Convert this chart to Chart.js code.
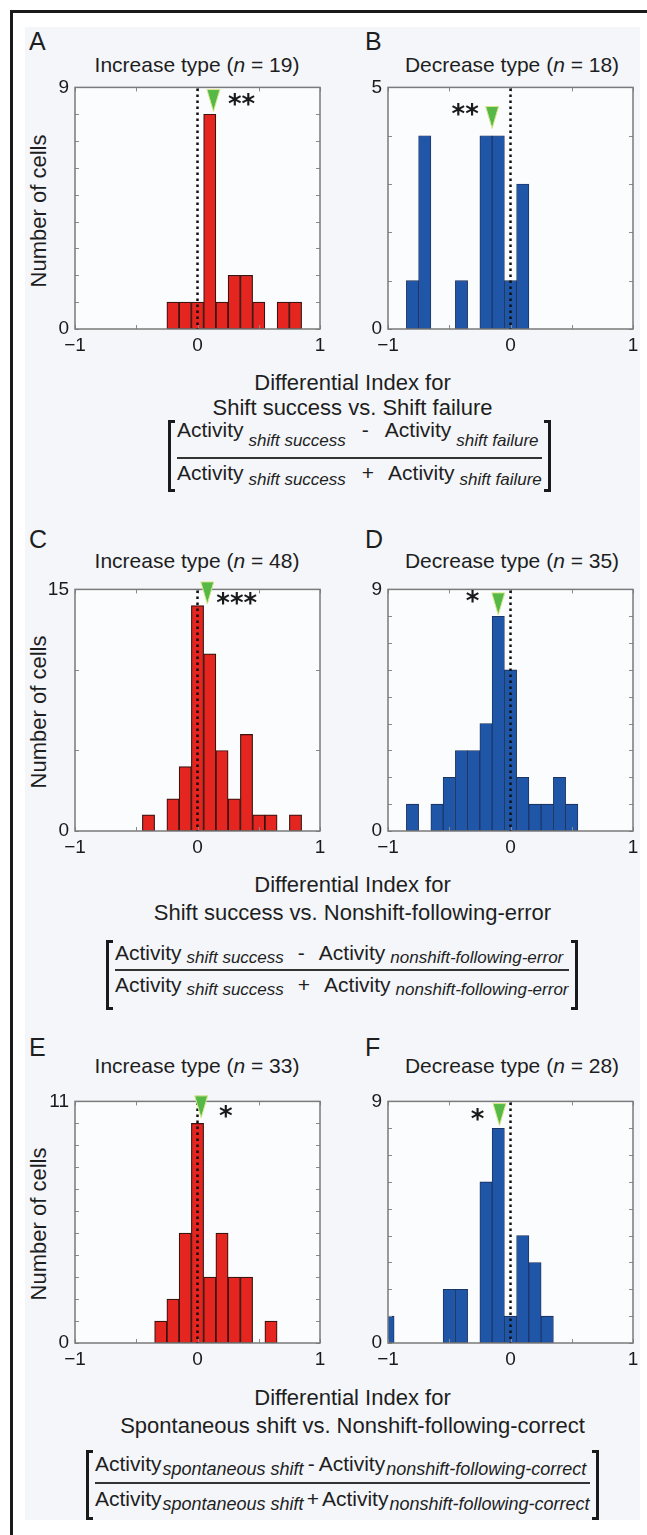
<!DOCTYPE html>
<html>
<head>
<meta charset="utf-8">
<script src="https://cdn.jsdelivr.net/npm/chart.js@4.4.1/dist/chart.umd.min.js"></script>
<style>
  html, body { margin: 0; padding: 0; }
  body { width: 647px; height: 1535px; overflow: hidden; position: relative; background: #fff;
         font-family: "Liberation Sans", Arial, sans-serif; color: #1e1e1e; }
  .frame { position: absolute; left: 10px; top: 10px; width: 700px; height: 1600px;
           border-left: 3px solid #1a1a1a; border-top: 3px solid #1a1a1a; }
  .bg { position: absolute; left: 25px; top: 27px; width: 615px; height: 1493px; background: #f4f6fa; }
  canvas { position: absolute; }
  .txt { position: absolute; white-space: nowrap; line-height: 1; }
  .letter { font-size: 25px; }
  .title { font-size: 21px; width: 320px; text-align: center; }
  .cap { font-size: 22px; left: 0; width: 705px; text-align: center; }
  .ylab { font-size: 22px; transform: translate(-50%, -50%) rotate(-90deg); }
  .fml { position: absolute; padding: 0 9px; font-size: 21px; line-height: 21px; white-space: nowrap; }
  .num { border-bottom: 2.5px solid #333; box-sizing: content-box; }
  .sb { font-size: 17px; font-style: italic; position: relative; margin-left: 5px; }
  .op { display: inline-block; margin: 0 14px; }
  .brk { position: absolute; width: 7px; box-sizing: border-box; border: 3px solid #1a1a1a; }
  .bl { left: 0; border-right: none; }
  .br { right: 0; border-left: none; }
</style>
</head>
<body>
<div class="frame"></div>
<div class="bg"></div>

<!-- panel letters and titles -->
<div class="txt letter" style="left:29px;top:29px">A</div>
<div class="txt letter" style="left:365px;top:29px">B</div>
<div class="txt letter" style="left:29px;top:527px">C</div>
<div class="txt letter" style="left:365px;top:527px">D</div>
<div class="txt letter" style="left:29px;top:1035px">E</div>
<div class="txt letter" style="left:365px;top:1035px">F</div>

<div class="txt title" style="left:37px;top:54px">Increase type (<i>n</i> = 19)</div>
<div class="txt title" style="left:352px;top:54px">Decrease type (<i>n</i> = 18)</div>
<div class="txt title" style="left:37px;top:550px">Increase type (<i>n</i> = 48)</div>
<div class="txt title" style="left:352px;top:550px">Decrease type (<i>n</i> = 35)</div>
<div class="txt title" style="left:37px;top:1055px">Increase type (<i>n</i> = 33)</div>
<div class="txt title" style="left:352px;top:1055px">Decrease type (<i>n</i> = 28)</div>

<div class="txt ylab" style="left:39px;top:211px">Number of cells</div>
<div class="txt ylab" style="left:39px;top:712px">Number of cells</div>
<div class="txt ylab" style="left:39px;top:1224px">Number of cells</div>

<canvas id="cA" width="300" height="290" style="left:40px;top:70px"></canvas>
<canvas id="cB" width="300" height="290" style="left:353px;top:70px"></canvas>
<canvas id="cC" width="300" height="290" style="left:40px;top:572px"></canvas>
<canvas id="cD" width="300" height="290" style="left:353px;top:572px"></canvas>
<canvas id="cE" width="300" height="290" style="left:40px;top:1084px"></canvas>
<canvas id="cF" width="300" height="290" style="left:353px;top:1084px"></canvas>

<!-- captions -->
<div class="txt cap" style="top:372px">Differential Index for</div>
<div class="txt cap" style="top:397px">Shift success vs. Shift failure</div>
<div class="fml" style="left:168px;top:419px">
  <div class="num" style="height:38px">Activity<span class="sb" style="top:9px">shift success</span><span class="op" style="margin:0 16px">-</span>Activity<span class="sb" style="top:9px">shift failure</span></div>
  <div style="margin-top:3px">Activity<span class="sb" style="top:5px">shift success</span><span class="op" style="margin:0 14px 0 16px">+</span>Activity<span class="sb" style="top:5px">shift failure</span></div>
  <div class="brk bl" style="top:1px;height:72px"></div>
  <div class="brk br" style="top:1px;height:72px"></div>
</div>

<div class="txt cap" style="top:874px">Differential Index for</div>
<div class="txt cap" style="top:902px">Shift success vs. Nonshift-following-error</div>
<div class="fml" style="left:106px;top:942px">
  <div class="num" style="height:27px">Activity<span class="sb" style="top:3px">shift success</span><span class="op">-</span>Activity<span class="sb" style="top:3px">nonshift-following-error</span></div>
  <div style="margin-top:3px">Activity<span class="sb" style="top:3px">shift success</span><span class="op">+</span>Activity<span class="sb" style="top:3px">nonshift-following-error</span></div>
  <div class="brk bl" style="top:-2px;height:70px"></div>
  <div class="brk br" style="top:-2px;height:70px"></div>
</div>

<div class="txt cap" style="top:1387px">Differential Index for</div>
<div class="txt cap" style="top:1415px">Spontaneous shift vs. Nonshift-following-correct</div>
<div class="fml" style="left:86px;top:1453px">
  <div class="num" style="height:29px">Activity<span class="sb" style="top:4px;margin-left:1px;font-size:18px">spontaneous shift</span><span class="op" style="margin:0 4px">-</span>Activity<span class="sb" style="top:4px;margin-left:1px;font-size:18px">nonshift-following-correct</span></div>
  <div style="margin-top:4px">Activity<span class="sb" style="top:4px;margin-left:1px;font-size:18px">spontaneous shift</span><span class="op" style="margin:0 3px">+</span>Activity<span class="sb" style="top:4px;margin-left:1px;font-size:18px">nonshift-following-correct</span></div>
  <div class="brk bl" style="top:-3px;height:70px"></div>
  <div class="brk br" style="top:-3px;height:70px"></div>
</div>

<script>
// bin centres and cell counts
const binsA = [-0.2, -0.1, 0, 0.1, 0.2, 0.3, 0.4, 0.5, 0.7, 0.8];
const countsA = [1, 1, 1, 8, 1, 2, 2, 1, 1, 1];
const binsB = [-0.8, -0.7, -0.4, -0.2, -0.1, 0, 0.1];
const countsB = [1, 4, 1, 4, 4, 1, 3];
const binsC = [-0.4, -0.2, -0.1, 0, 0.1, 0.2, 0.3, 0.4, 0.5, 0.6, 0.8];
const countsC = [1, 2, 4, 14, 11, 5, 2, 6, 1, 1, 1];
const binsD = [-0.8, -0.6, -0.5, -0.4, -0.3, -0.2, -0.1, 0, 0.1, 0.2, 0.3, 0.4, 0.5];
const countsD = [1, 1, 2, 3, 3, 4, 8, 6, 2, 1, 1, 2, 1];
const binsE = [-0.3, -0.2, -0.1, 0, 0.1, 0.2, 0.3, 0.4, 0.6];
const countsE = [1, 2, 5, 10, 3, 5, 3, 3, 1];
const binsF = [-1, -0.5, -0.4, -0.2, -0.1, 0, 0.1, 0.2, 0.3];
const countsF = [1, 2, 2, 6, 8, 1, 4, 3, 1];

// axis limits / y tick step per panel (A..F)
const yMax = [9, 5, 15, 9, 11, 9];
const yStep = [1, 1, 5, 1, 1, 1];
const xLabels = [-1, 0, 1];

// population mean (green arrowhead) and its tip height, significance stars
const means = [0.13, -0.15, 0.08, -0.1, 0.03, -0.09];
const meanTips = [8.1, 4.15, 14.1, 8.05, 10.25, 8.1];
const stars = ['**', '**', '***', '*', '*', '*'];
const starX = [0.36, -0.37, 0.32, -0.31, 0.23, -0.27];
const starY = [8.5, 4.5, 14.3, 8.67, 10.45, 8.45];

const RED = '#e5251f', RED_EDGE = '#3a1410';
const BLUE = '#1f56a8', BLUE_EDGE = '#1b2b52';
const FONT = '"Liberation Sans", Arial, sans-serif';

const matlabAxes = {
  id: 'matlabAxes',
  beforeDatasetsDraw(chart) {
    const { ctx, chartArea: a } = chart;
    ctx.save();
    ctx.fillStyle = '#fbfcfd';
    ctx.fillRect(a.left, a.top, a.right - a.left, a.bottom - a.top);
    ctx.restore();
  },
  afterDatasetsDraw(chart, args, o) {
    const { ctx, chartArea: a, scales: { x, y } } = chart;
    ctx.save();
    // inward tick marks on all four sides
    ctx.strokeStyle = '#8a8a8a';
    ctx.lineWidth = 1;
    ctx.beginPath();
    y.ticks.forEach(t => {
      const py = Math.round(y.getPixelForValue(t.value)) + 0.5;
      ctx.moveTo(a.left, py); ctx.lineTo(a.left + 4, py);
      ctx.moveTo(a.right, py); ctx.lineTo(a.right - 4, py);
    });
    x.ticks.forEach(t => {
      const px = Math.round(x.getPixelForValue(t.value)) + 0.5;
      ctx.moveTo(px, a.top); ctx.lineTo(px, a.top + 4);
      ctx.moveTo(px, a.bottom); ctx.lineTo(px, a.bottom - 4);
    });
    ctx.stroke();
    // box
    ctx.strokeStyle = '#7a7a7a';
    ctx.lineWidth = 1.5;
    ctx.strokeRect(a.left, a.top, a.right - a.left, a.bottom - a.top);
    // dotted zero line
    const x0 = x.getPixelForValue(0);
    ctx.strokeStyle = '#111';
    ctx.lineWidth = 2.5;
    ctx.setLineDash([2.5, 3.5]);
    ctx.beginPath();
    ctx.moveTo(x0, a.top + 1);
    ctx.lineTo(x0, a.bottom);
    ctx.stroke();
    ctx.setLineDash([]);
    // mean arrowhead
    const mx = x.getPixelForValue(o.mean);
    const my = y.getPixelForValue(o.tip);
    ctx.beginPath();
    ctx.moveTo(mx, my);
    ctx.lineTo(mx - 6.5, my - 22);
    ctx.lineTo(mx + 6.5, my - 22);
    ctx.closePath();
    ctx.fillStyle = '#56b947';
    ctx.fill();
    ctx.strokeStyle = '#d9e88a';
    ctx.lineWidth = 1;
    ctx.stroke();
    // stars
    ctx.fillStyle = '#1a1a1a';
    ctx.font = 'bold 26px "DejaVu Sans", sans-serif';
    ctx.textAlign = 'center';
    ctx.textBaseline = 'middle';
    ctx.fillText(o.stars, x.getPixelForValue(o.sx), y.getPixelForValue(o.sy) + 5);
    ctx.restore();
  }
};

function histogram(id, i, bins, counts, fill, edge, edgeW) {
  new Chart(document.getElementById(id), {
    type: 'bar',
    data: {
      datasets: [{
        data: bins.map((b, k) => ({ x: b, y: counts[k] })),
        backgroundColor: fill,
        borderColor: edge,
        borderWidth: edgeW,
        borderSkipped: false,
        barPercentage: 1,
        categoryPercentage: 1,
        clip: 0
      }]
    },
    options: {
      responsive: false,
      animation: false,
      events: [],
      layout: { padding: { top: 14, right: 20, left: 0, bottom: 0 } },
      plugins: {
        legend: { display: false },
        tooltip: { enabled: false },
        matlabAxes: { mean: means[i], tip: meanTips[i], stars: stars[i], sx: starX[i], sy: starY[i] }
      },
      scales: {
        x: {
          type: 'linear', min: -1, max: 1, offset: false,
          grid: { display: false, drawTicks: false },
          border: { display: false },
          ticks: {
            stepSize: 0.5, autoSkip: false, maxRotation: 0, padding: 5,
            color: '#1a1a1a', font: { family: FONT, size: 19 },
            callback: v => xLabels.includes(v) ? String(v).replace('-', '\u2212') : ''
          },
          afterFit: s => { s.height = 31; }
        },
        y: {
          min: 0, max: yMax[i],
          grid: { display: false, drawTicks: false },
          border: { display: false },
          ticks: {
            stepSize: yStep[i], autoSkip: false, padding: 6,
            color: '#1a1a1a', font: { family: FONT, size: 19 },
            callback: v => (v === 0 || v === yMax[i]) ? String(v) : ''
          },
          afterFit: s => { s.width = 35; }
        }
      }
    },
    plugins: [matlabAxes]
  });
}

histogram('cA', 0, binsA, countsA, RED, RED_EDGE, 1.2);
histogram('cB', 1, binsB, countsB, BLUE, BLUE_EDGE, 0.8);
histogram('cC', 2, binsC, countsC, RED, RED_EDGE, 1.2);
histogram('cD', 3, binsD, countsD, BLUE, BLUE_EDGE, 0.8);
histogram('cE', 4, binsE, countsE, RED, RED_EDGE, 1.2);
histogram('cF', 5, binsF, countsF, BLUE, BLUE_EDGE, 0.8);
</script>
</body>
</html>
